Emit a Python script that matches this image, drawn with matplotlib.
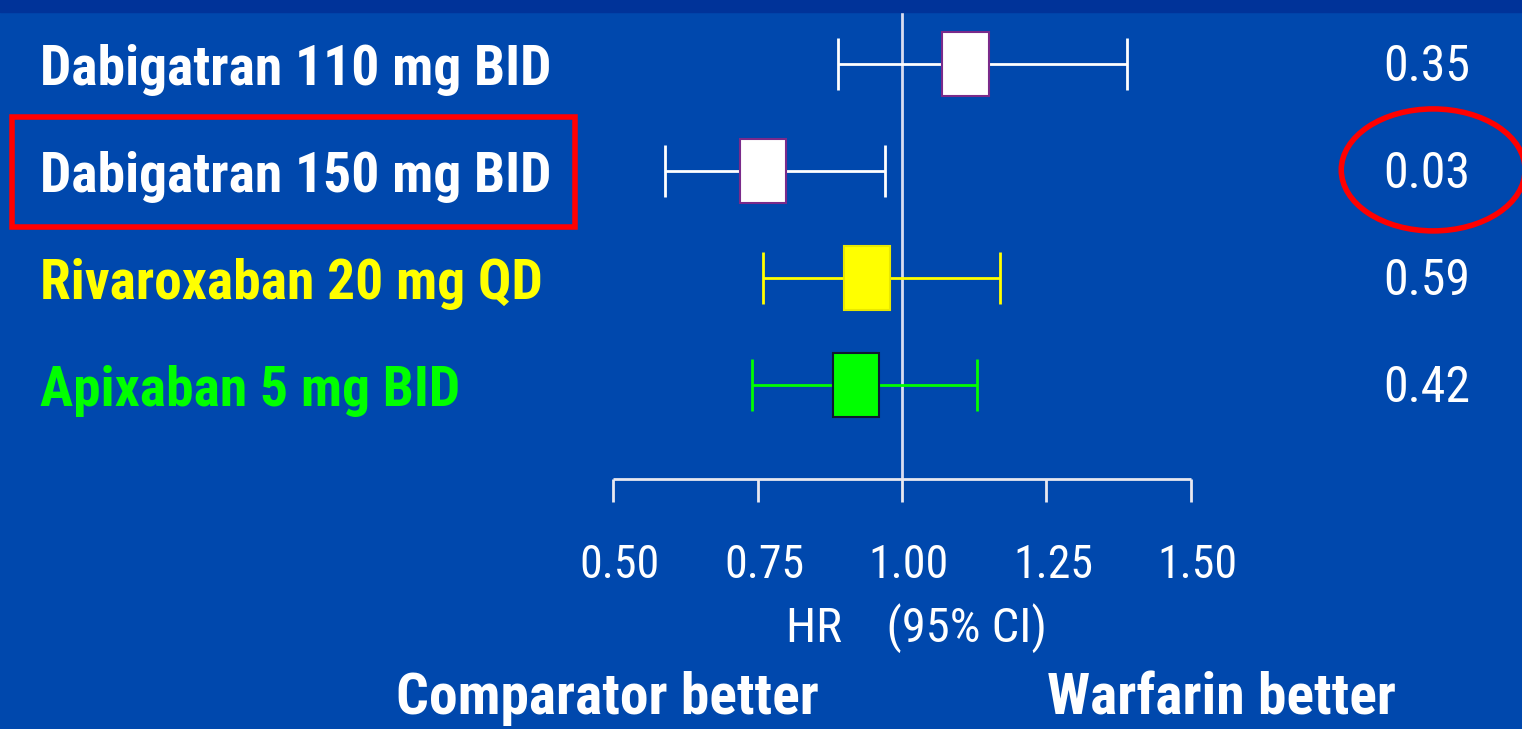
import matplotlib
matplotlib.use("Agg")
import matplotlib.pyplot as plt
from matplotlib.patches import Rectangle, Ellipse

labels = ["Dabigatran 110 mg BID", "Dabigatran 150 mg BID", "Rivaroxaban 20 mg QD", "Apixaban 5 mg BID"]
hr = [1.11, 0.76, 0.94, 0.92]
lo = [0.89, 0.59, 0.76, 0.74]
hi = [1.39, 0.97, 1.17, 1.13]
pvals = ["0.35", "0.03", "0.59", "0.42"]
colors = ["white", "white", "#ffff00", "#00ff00"]
edges = ["#7a2a8a", "#7a2a8a", "#e8e800", "#101830"]
ticks = [0.50, 0.75, 1.00, 1.25, 1.50]

font = "Roboto Condensed"
bg = "#0048ad"

fig = plt.figure(figsize=(15.22, 7.29), dpi=100)
fig.patch.set_facecolor(bg)
ax = fig.add_axes([0, 0, 1, 1])
ax.set_facecolor(bg)
ax.set_xlim(-0.5606, 2.0727)
ax.set_ylim(6.215, -0.598)
ax.axis("off")

# darker strip at the very top
ax.axhspan(-0.598, -0.486, color="#003399", zorder=5)

ax.vlines(1.0, -0.486, 3.879, color="#d8dcf0", lw=2)
for i in range(len(labels)):
    c = colors[i]
    ax.hlines(i, lo[i], hi[i], color=c, lw=2)
    ax.vlines([lo[i], hi[i]], i - 0.24, i + 0.24, color=c, lw=2)
    ax.add_patch(Rectangle((hr[i] - 0.04, i - 0.295), 0.08, 0.59,
                           facecolor=colors[i], edgecolor=edges[i], lw=1.5, zorder=3))
    ax.text(-0.491, i + 0.06, labels[i], color=colors[i], fontsize=40, fontweight="bold",
            family=font, va="center", ha="left")
    ax.text(1.983, i + 0.03, pvals[i], color="white", fontsize=36, family=font,
            va="center", ha="right")

# x axis
ax.hlines(3.879, 0.5, 1.5, color="#e8e8f0", lw=2)
ax.vlines(ticks, 3.879, 4.093, color="#e8e8f0", lw=2)
for t in ticks:
    ax.text(t + 0.012, 4.68, "%.2f" % t, color="white", fontsize=33, family=font,
            ha="center", va="center")
ax.text(1.025, 5.27, "HR    (95% CI)", color="white", fontsize=35, family=font,
        ha="center", va="center")
ax.text(0.49, 5.93, "Comparator better", color="white", fontsize=41.5, fontweight="bold",
        family=font, ha="center", va="center")
ax.text(1.552, 5.93, "Warfarin better", color="white", fontsize=41.5, fontweight="bold",
        family=font, ha="center", va="center")

# highlight marks
ax.add_patch(Rectangle((-0.5399, 0.495), 0.974, 1.03, fill=False, edgecolor="#ff0000", lw=4, zorder=6))
ax.add_patch(Ellipse((1.919, 0.99), 0.318, 1.14, fill=False, edgecolor="#ff0000", lw=4, zorder=6))

fig.savefig("out.png", dpi=100, facecolor=fig.get_facecolor())
